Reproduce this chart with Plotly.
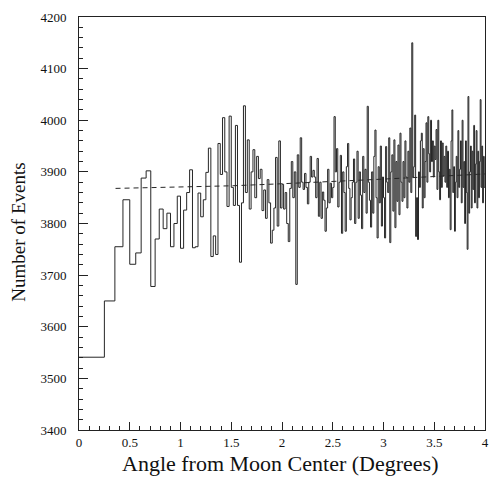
import numpy as np
import plotly.graph_objects as go

# Event counts per equal-area angular ring (256 rings from 0 to 4 degrees)
counts_0_1 = [3541, 3650, 3755, 3846, 3721, 3743, 3888, 3902,
              3678, 3770, 3828, 3790, 3820, 3755, 3800, 3853]
counts_1_15 = [3752, 3826, 3860, 3904, 3753, 3755, 3859, 3813, 3846, 3899,
               3946, 3736, 3776, 3740, 3955, 3895, 4005, 3900, 3833, 4008]
counts_15_2 = [3870, 3835, 3990, 3835, 3725, 3840, 4028, 3860, 3962, 3828,
               3900, 3943, 3850, 3930, 3887, 3905, 3825, 3865, 3810, 3885,
               3840, 3762, 3787, 3830, 3928, 3795, 3960, 3830]
counts_2_25 = [3876, 3828, 3860, 3800, 3765, 3868, 3920, 3850, 3900, 3682,
               3933, 3870, 3966, 3880, 3866, 3897, 3870, 3838, 3880, 3930,
               3890, 3903, 3890, 3850, 3926, 3814, 3880, 3810, 3861, 3845,
               3785, 3830, 3905, 3840, 3878, 3850]
counts_25_3 = [3870, 4007, 3900, 3945, 3832, 3880, 3932, 3781, 3900, 3860,
               3785, 3910, 3955, 3868, 3807, 3850, 3880, 3925, 3800, 3880,
               3940, 3810, 3900, 3855, 3790, 3930, 3860, 3905, 3820, 4027,
               3880, 3845, 3793, 3900, 3820, 3930, 3981, 3850, 3772, 3910,
               3840, 3950, 3795, 3890]
counts_3_35 = [3850, 3772, 3949, 3880, 3860, 3966, 3763, 3900, 3933, 3824,
               3962, 3792, 3920, 3843, 3952, 3817, 3975, 3880, 3843, 3920,
               3850, 3960, 3890, 3830, 3940, 3880, 3985, 3860, 4150, 3890,
               3910, 4010, 3775, 3850, 3769, 3900, 3870, 3960, 3975, 3830,
               3945, 3850, 3920, 3995, 3880, 4007, 3935, 3900, 4000, 3920,
               3960, 3890]
counts_35_4 = [3950, 3924, 3982, 3866, 4000, 3900, 3846, 3960, 3870, 3956,
               3892, 3930, 3880, 3950, 3870, 3940, 3850, 3905, 3788, 3960,
               4020, 3860, 3910, 3785, 3880, 3930, 3850, 3980, 3870, 3905,
               3960, 3840, 4000, 3870, 3920, 3800, 3960, 3860, 3750, 4046,
               3820, 3900, 3950, 3830, 3940, 3866, 3990, 3840, 3915, 3980,
               3830, 3940, 3850, 3920, 4040, 3870, 3950, 3840, 3930, 3870]

counts = (counts_0_1 + counts_1_15 + counts_15_2 + counts_2_25 +
          counts_25_3 + counts_3_35 + counts_35_4)

# Rings of equal solid angle: outer radius of ring n is R1*sqrt(n)
R1 = 0.25
n_bins = len(counts)
edges = R1 * np.sqrt(np.arange(n_bins + 1))

# Expected background (dashed curve)
fit_x = [0.36, 1.0, 1.5, 2.0, 2.5, 3.0, 3.5, 4.0]
fit_y = [3868, 3871, 3873, 3877, 3881, 3886, 3891, 3896]

x_ticks = [0, 0.5, 1, 1.5, 2, 2.5, 3, 3.5, 4]
x_ticktext = ["0", "0.5", "1", "1.5", "2", "2.5", "3", "3.5", "4"]
y_ticks = [3400, 3500, 3600, 3700, 3800, 3900, 4000, 4100, 4200]

step_x = list(edges)
step_y = list(counts) + [counts[-1]]

fig = go.Figure()
fig.add_trace(go.Scatter(x=step_x, y=step_y, mode="lines", line_shape="hv",
                         line=dict(color="#262626", width=1), showlegend=False))
fig.add_trace(go.Scatter(x=fit_x, y=fit_y, mode="lines",
                         line=dict(color="#262626", width=1, dash="5px,4px"),
                         showlegend=False))

font_family = "Liberation Serif"
tick_font = dict(family=font_family, size=13, color="#111")
fig.update_layout(
    width=494, height=477,
    margin=dict(l=79, r=5, t=17, b=47),
    paper_bgcolor="white", plot_bgcolor="white",
    font=dict(family=font_family, color="#111", size=13),
    xaxis=dict(range=[0, 4], tickvals=x_ticks, ticktext=x_ticktext,
               ticks="inside", ticklen=8, tickwidth=1, tickcolor="#222",
               minor=dict(dtick=0.1, ticks="inside", ticklen=4, tickcolor="#222"),
               showline=True, linecolor="#222", linewidth=1, mirror=True,
               showgrid=False, zeroline=False, tickfont=tick_font,
               ticklabelstandoff=0),
    yaxis=dict(range=[3400, 4200], tickvals=y_ticks,
               ticks="inside", ticklen=9, tickwidth=1, tickcolor="#222",
               minor=dict(dtick=20, ticks="inside", ticklen=4, tickcolor="#222"),
               showline=True, linecolor="#222", linewidth=1, mirror=True,
               showgrid=False, zeroline=False, tickfont=tick_font,
               ticklabelstandoff=9),
    annotations=[
        dict(text="Angle from Moon Center (Degrees)", xref="paper", yref="paper",
             x=0.496, y=-0.1138, xanchor="center", yanchor="bottom", showarrow=False,
             borderpad=0,
             font=dict(size=22, family=font_family, color="#111")),
        dict(text="Number of Events", xref="paper", yref="paper",
             x=-0.149, y=0.479, xanchor="center", yanchor="middle", showarrow=False,
             textangle=-90, font=dict(size=19, family=font_family, color="#111")),
    ],
)

fig.write_html("out.html", config={"displayModeBar": False},
               post_script="document.body.style.margin='0';")
